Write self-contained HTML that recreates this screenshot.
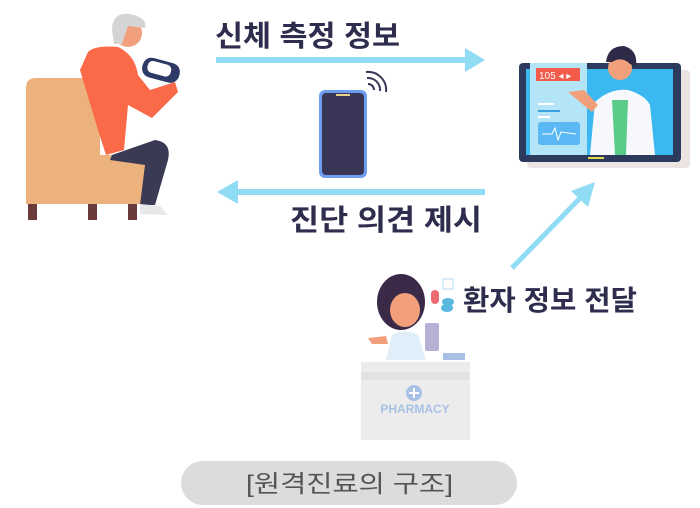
<!DOCTYPE html>
<html><head><meta charset="utf-8"><style>
body{margin:0;width:700px;height:508px;background:#fff;overflow:hidden}
svg{display:block}
text{font-family:"Liberation Sans","Noto Sans CJK KR",sans-serif}
</style></head><body>
<svg width="700" height="508" viewBox="0 0 700 508">
<!-- chair -->
<rect x="28" y="203" width="9" height="17" fill="#6b3a3a"/>
<rect x="88" y="203" width="9" height="17" fill="#6b3a3a"/>
<rect x="128" y="203" width="9" height="17" fill="#6b3a3a"/>
<path d="M26 88 Q26 78 36 78 L92 78 Q100 78 100 88 L100 155 L140 155 Q147 155 147 162 L147 204 L26 204 Z" fill="#ecb27e"/>
<!-- person -->
<path d="M88 52 Q95 45 118 47 Q135 55 138 75 L150 90 L175 82 L178 92 L152 118 L128 105 L124 150 L106 155 L98 130 L80 70 Z" fill="#fb6a48"/>
<path d="M112 155 L155 140 Q172 142 168 160 L155 205 L140 205 L145 165 L110 160 Z" fill="#3a3a55"/>
<path d="M140 204 L160 206 L168 215 L140 214 Z" fill="#e8e8e8"/>
<circle cx="128" cy="33" r="14" fill="#f2a07c"/>
<path d="M112 30 Q112 12 130 14 Q148 18 145 28 L128 26 L122 44 L114 44 Z" fill="#d4d4d4"/>
<rect x="142" y="60" width="38" height="20" rx="9" fill="#2e3a66" transform="rotate(15 160 70)"/>
<rect x="147" y="63" width="24" height="12" rx="5" fill="#fff" transform="rotate(15 160 70)"/>
<!-- top text & arrow -->
<text x="215" y="46" font-size="29" font-weight="bold" fill="#2e2d4d" textLength="185" lengthAdjust="spacingAndGlyphs">신체 측정 정보</text>
<rect x="216" y="57" width="252" height="6" fill="#8fdcf4"/>
<polygon points="485,60 465,48 465,72" fill="#8fdcf4"/>
<!-- phone -->
<rect x="319" y="90" width="48" height="88" rx="6" fill="#6d9ef0"/>
<rect x="322" y="93" width="42" height="82" rx="4" fill="#393557"/>
<rect x="336" y="94" width="14" height="2" fill="#e8d38c"/>
<g fill="none" stroke="#393557" stroke-width="2">
<path d="M368 84 A6 6 0 0 1 374 90"/><path d="M367 78 A12 12 0 0 1 380 91"/><path d="M366 72 A18 18 0 0 1 386 92"/></g>
<!-- bottom arrow -->
<rect x="233" y="189" width="252" height="6" fill="#8fdcf4"/>
<polygon points="217,192 238,180 238,204" fill="#8fdcf4"/>
<text x="290" y="230" font-size="29" font-weight="bold" fill="#2e2d4d" textLength="192" lengthAdjust="spacingAndGlyphs">진단 의견 제시</text>
<!-- tablet -->
<rect x="527" y="70" width="163" height="98" rx="4" fill="#ece4e2"/>
<rect x="519" y="63" width="162" height="99" rx="4" fill="#2c3a5e"/>
<rect x="526" y="69" width="147" height="86" fill="#3ab8ef"/>
<rect x="530" y="63" width="57" height="92" fill="#b4e4f8"/>
<rect x="536" y="68" width="44" height="13" fill="#f25a4a"/>
<text x="539" y="79" font-size="10" fill="#fff">105 ◂ ▸</text>
<rect x="538" y="103" width="16" height="2" fill="#fff"/><rect x="538" y="110" width="22" height="2" fill="#3aa0e0"/><rect x="538" y="116" width="12" height="2" fill="#fff"/>
<rect x="538" y="122" width="42" height="23" rx="3" fill="#5ab9f5"/>
<path d="M542 134 L552 134 L555 128 L558 140 L561 132 L576 134" stroke="#fff" fill="none"/>
<rect x="588" y="157" width="16" height="2" fill="#e5d94b"/>
<path d="M590 155 L595 102 Q610 88 628 90 Q645 95 650 105 L655 155 Z" fill="#f6f8fc"/>
<path d="M612 100 L628 100 L626 155 L615 155 Z" fill="#5bcb8a"/>
<circle cx="620" cy="68" r="12" fill="#f2a07c"/>
<path d="M606 62 Q608 46 624 46 Q638 50 636 66 L630 64 Q622 56 612 62 Z" fill="#2e2a48"/>
<path d="M568 92 L584 90 L598 105 L592 112 Z" fill="#f2a07c"/>
<!-- diagonal arrow -->
<line x1="512" y1="268" x2="585" y2="193" stroke="#8fdcf4" stroke-width="5"/>
<polygon points="595,182 571,191 588,207" fill="#8fdcf4"/>
<text x="463" y="310" font-size="28" font-weight="bold" fill="#2e2d4d" textLength="174" lengthAdjust="spacingAndGlyphs">환자 정보 전달</text>
<!-- pills -->
<rect x="431" y="290" width="8" height="14" rx="4" fill="#ee6a72"/>
<ellipse cx="448" cy="302" rx="6" ry="4" fill="#5ab9e0"/><ellipse cx="447" cy="308" rx="6" ry="4" fill="#5ab9e0"/>
<rect x="443" y="279" width="10" height="10" fill="none" stroke="#d8eefa" stroke-width="2"/>
<!-- pharmacist -->
<path d="M386 360 L392 335 Q405 328 418 335 L426 360 Z" fill="#dfeef8"/>
<ellipse cx="401" cy="302" rx="24" ry="28" fill="#3a2a48"/>
<ellipse cx="405" cy="310" rx="15" ry="17" fill="#f2a07c"/>
<path d="M368 338 L386 336 L388 344 L372 344 Z" fill="#f2a07c"/>
<rect x="425" y="323" width="14" height="28" rx="2" fill="#b6b0d6"/>
<rect x="443" y="353" width="22" height="7" fill="#a8c0e6"/>
<!-- counter -->
<rect x="361" y="362" width="109" height="78" fill="#ececec"/>
<rect x="361" y="372" width="109" height="8" fill="#e2e2e2"/>
<circle cx="414" cy="393" r="8" fill="#a8c0e6"/>
<path d="M414 388 V398 M409 393 H419" stroke="#fff" stroke-width="2"/>
<text x="415" y="413" font-size="12" font-weight="bold" fill="#a8c0e6" text-anchor="middle">PHARMACY</text>
<!-- caption -->
<rect x="181" y="461" width="336" height="44" rx="22" fill="#dcdcdc"/>
<text x="246" y="492" font-size="24" fill="#555" textLength="207" lengthAdjust="spacingAndGlyphs">[원격진료의 구조]</text>
</svg>
</body></html>
